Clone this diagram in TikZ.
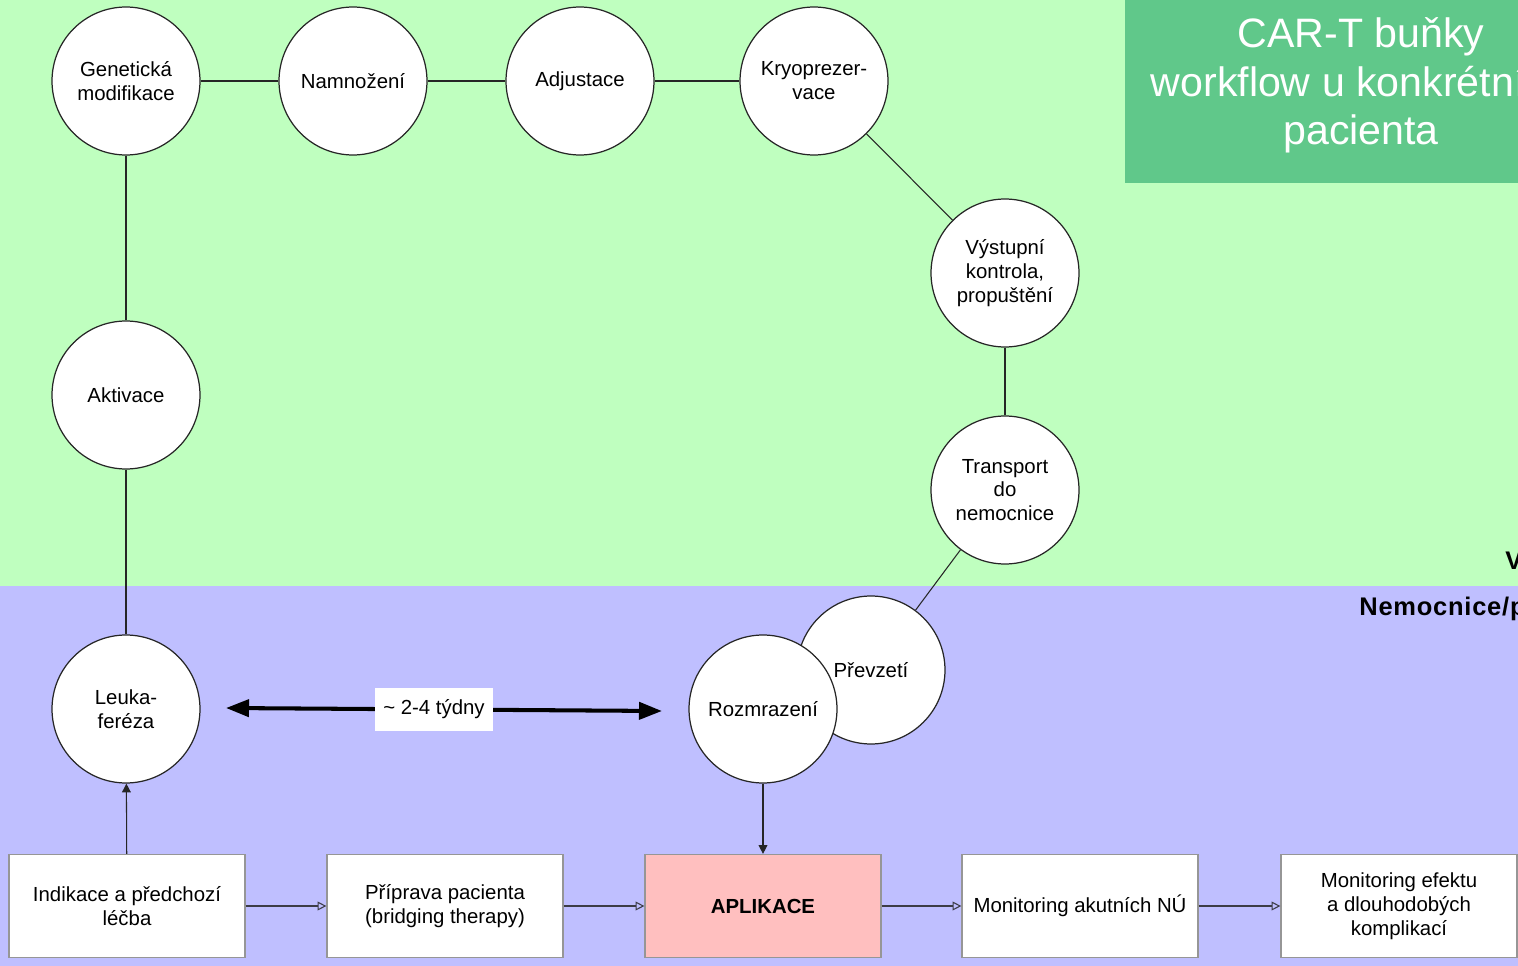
\documentclass[tikz,border=0pt]{standalone}
\usepackage{fontspec}
\setmainfont{Liberation Sans}
\usetikzlibrary{arrows.meta}
\definecolor{bggreen}{RGB}{191,255,191}
\definecolor{bgblue}{RGB}{191,191,255}
\definecolor{titlegreen}{RGB}{96,200,138}
\definecolor{apl}{RGB}{255,191,191}
\definecolor{boxborder}{RGB}{150,150,150}
\definecolor{conn}{RGB}{60,60,70}
\tikzset{
  stage/.style={circle, draw=black!85, line width=0.7pt, fill=white, minimum size=2.96cm, inner sep=0pt, align=center, font=\fontsize{11.6}{13.6}\selectfont},
  procbox/.style={rectangle, draw=boxborder, line width=0.7pt, fill=white, minimum width=4.72cm, minimum height=2.06cm, inner sep=2pt, align=center, font=\fontsize{11.6}{13.6}\selectfont},
  link/.style={draw=black!85, line width=0.6pt},
  flow/.style={draw=conn, line width=0.6pt, -{Triangle[open, length=5pt, width=5pt]}},
  solidflow/.style={draw=black!85, line width=0.6pt, -{Triangle[length=5pt, width=5pt]}},
  sidelabel/.style={anchor=west, inner sep=0pt, font=\fontsize{14.5}{16}\selectfont\bfseries\addfontfeature{LetterSpace=3}},
}
\begin{document}
\begin{tikzpicture}[x=0.02cm, y=-0.02cm]
\useasboundingbox (0,0) rectangle (1518,966);
\clip (0,0) rectangle (1518,966);
% backgrounds
\fill[bggreen] (0,0) rectangle (1518,586);
\fill[bgblue] (0,586) rectangle (1518,966);
\fill[titlegreen] (1125,0) rectangle (1540,183);
\node[text=white, font=\fontsize{23.4}{27.8}\selectfont, align=center, anchor=north, inner sep=0pt] (title) at (1361,17) {CAR-T buňky\\workflow u konkrétního\\pacienta};
\node[sidelabel] (vyrobce) at (1505,563) {Výrobce};
\node[sidelabel] (nemocnice) at (1359,609) {Nemocnice/pacient};

% circles
\node[stage] (gen) at (126,81) {Genetická\\modifikace};
\node[stage] (nam) at (353,81) {Namnožení};
\node[stage] (adj) at (580,81) {Adjustace};
\node[stage] (kryo) at (814,81) {Kryoprezer-\\vace};
\node[stage] (vys) at (1005,273) {Výstupní\\kontrola,\\propuštění};
\node[stage] (tra) at (1005,490) {Transport\\do\\nemocnice};
\node[stage] (akt) at (126,395) {Aktivace};
\node[stage] (leu) at (126,709) {Leuka-\\feréza};
\node[stage] (pre) at (871,670) {Převzetí};
\node[stage] (roz) at (763,709) {Rozmrazení};

% boxes
\node[procbox] (ind) at (127,906) {Indikace a předchozí\\léčba};
\node[procbox] (pri) at (445,906) {Příprava pacienta\\(bridging therapy)};
\node[procbox, fill=apl, font=\fontsize{11.6}{13.6}\selectfont\bfseries] (apl) at (763,906) {APLIKACE};
\node[procbox] (mak) at (1080,906) {Monitoring akutních NÚ};
\node[procbox] (mef) at (1399,906) {Monitoring efektu\\a dlouhodobých\\komplikací};

% links between circles
\draw[link] (gen) -- (nam);
\draw[link] (nam) -- (adj);
\draw[link] (adj) -- (kryo);
\draw[link] (kryo) -- (vys);
\draw[link] (vys) -- (tra);
\draw[link] (tra) -- (pre);
\draw[link] (gen) -- (akt);
\draw[link] (akt) -- (leu);

% flows
\draw[solidflow] (roz) -- (apl);
\draw[solidflow] (ind) -- (leu);
\draw[flow] (ind) -- (pri);
\draw[flow] (pri) -- (apl);
\draw[flow] (apl) -- (mak);
\draw[flow] (mak) -- (mef);

% duration arrow
\coordinate (dl) at (226,708);
\coordinate (dr) at (662,711);
\draw[line width=2.3pt, {Triangle[length=0.46cm, width=0.34cm]}-{Triangle[length=0.46cm, width=0.34cm]}] (dl) -- (dr);
\node[fill=white, minimum width=2.36cm, minimum height=0.86cm, inner sep=0pt, font=\fontsize{11.6}{13.6}\selectfont] (dur) at (434,709) {\textasciitilde{} 2-4 týdny};
\end{tikzpicture}
\end{document}
